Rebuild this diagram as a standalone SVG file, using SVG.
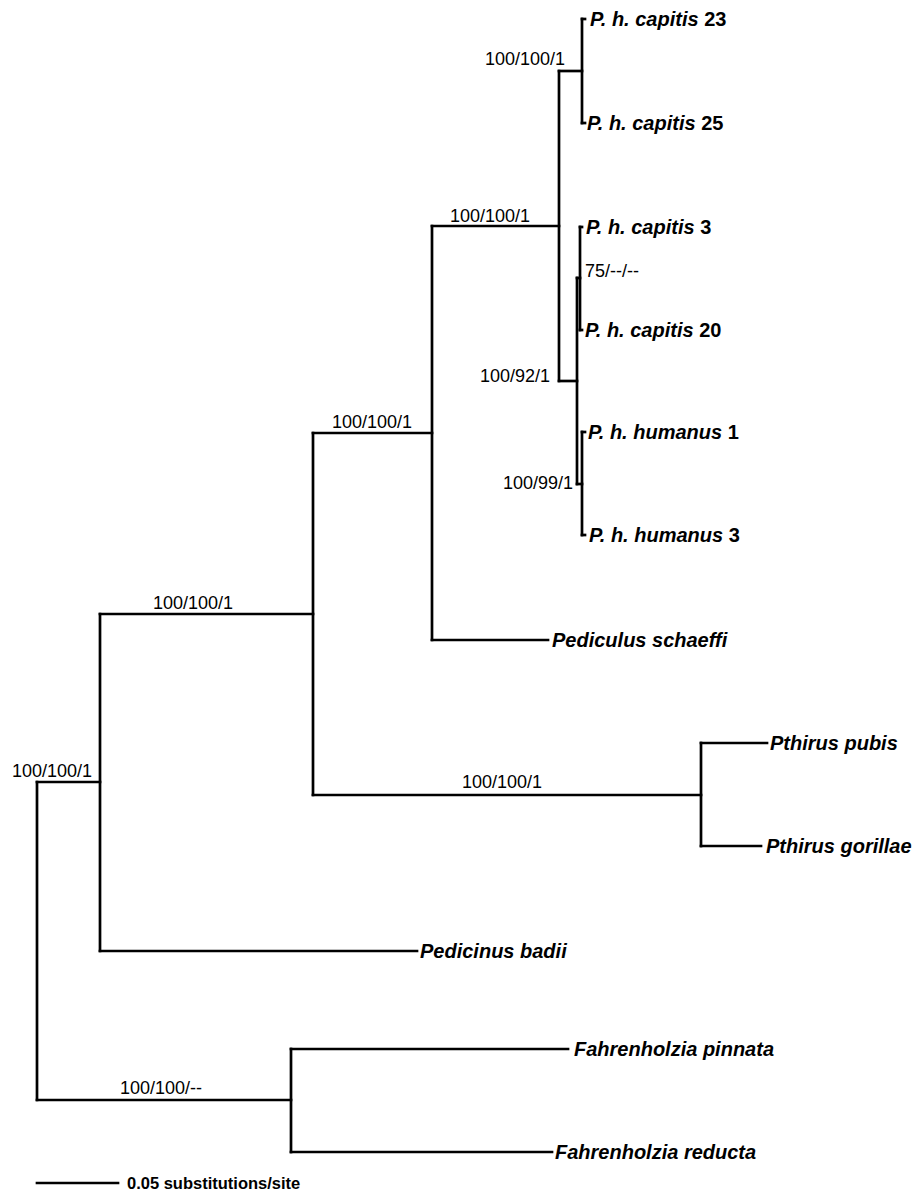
<svg xmlns="http://www.w3.org/2000/svg" width="914" height="1192" viewBox="0 0 914 1192">
<style>
.br{fill:none;stroke:#000;stroke-width:2.7;stroke-linecap:square}
.tx{font-family:"Liberation Sans",Arial,sans-serif;font-size:20px;font-weight:bold;font-style:italic;fill:#000}
.tn{font-style:normal}
.sp{font-family:"Liberation Sans",Arial,sans-serif;font-size:18px;fill:#000}
.sc{font-family:"Liberation Sans",Arial,sans-serif;font-size:16.5px;font-weight:bold;fill:#000}
</style>
<rect width="914" height="1192" fill="#fff"/>
<g id="connectors" class="br">
<path d="M37,782V1100"/>
<path d="M37,782H100"/>
<path d="M37,1100H291"/>
<path d="M100,614V951"/>
<path d="M100,614H313"/>
<path d="M100,951H417"/>
<path d="M313,433V795"/>
<path d="M313,433H432"/>
<path d="M313,795H701"/>
<path d="M432,226V640"/>
<path d="M432,226H559"/>
<path d="M432,640H548"/>
<path d="M559,71V381"/>
<path d="M559,71H582"/>
<path d="M559,381H577"/>
<path d="M582,19V123"/>
<path d="M582,19H585"/>
<path d="M582,123H585"/>
<path d="M577,278V484"/>
<path d="M577,278H580"/>
<path d="M577,484H582"/>
<path d="M580,227V330"/>
<path d="M580,227H582"/>
<path d="M580,330H582"/>
<path d="M582,432V535"/>
<path d="M582,432H585"/>
<path d="M582,535H585"/>
<path d="M701,743V846"/>
<path d="M701,743H767"/>
<path d="M701,846H761"/>
<path d="M291,1049V1152"/>
<path d="M291,1049H568"/>
<path d="M291,1152H552"/>
</g>
<g id="support-labels" class="sp">
<text x="12" y="777">100/100/1</text>
<text x="153" y="609">100/100/1</text>
<text x="332" y="428">100/100/1</text>
<text x="450" y="222">100/100/1</text>
<text x="485" y="65">100/100/1</text>
<text x="480" y="382">100/92/1</text>
<text x="585" y="277">75/--/--</text>
<text x="503" y="489">100/99/1</text>
<text x="462" y="788">100/100/1</text>
<text x="120" y="1094">100/100/--</text>
</g>
<g id="leaf-cap23"><text class="tx" x="590" y="26">P. h. capitis<tspan class="tn"> 23</tspan></text></g>
<g id="leaf-cap25"><text class="tx" x="587" y="130">P. h. capitis<tspan class="tn"> 25</tspan></text></g>
<g id="leaf-cap3"><text class="tx" x="586" y="234">P. h. capitis<tspan class="tn"> 3</tspan></text></g>
<g id="leaf-cap20"><text class="tx" x="585" y="337">P. h. capitis<tspan class="tn"> 20</tspan></text></g>
<g id="leaf-hum1"><text class="tx" x="588" y="439">P. h. humanus<tspan class="tn"> 1</tspan></text></g>
<g id="leaf-hum3"><text class="tx" x="589" y="542">P. h. humanus<tspan class="tn"> 3</tspan></text></g>
<g id="leaf-pschaeffi"><text class="tx" x="552" y="647">Pediculus schaeffi</text></g>
<g id="leaf-ppubis"><text class="tx" x="770" y="750">Pthirus pubis</text></g>
<g id="leaf-pgorillae"><text class="tx" x="766" y="853">Pthirus gorillae</text></g>
<g id="leaf-pbadii"><text class="tx" x="420" y="958">Pedicinus badii</text></g>
<g id="leaf-fpinnata"><text class="tx" x="574" y="1056">Fahrenholzia pinnata</text></g>
<g id="leaf-freducta"><text class="tx" x="555" y="1159">Fahrenholzia reducta</text></g>
<g id="scale-bar">
<path class="br" d="M37,1183H118"/>
<text class="sc" x="127" y="1189">0.05 substitutions/site</text>
</g>
</svg>
